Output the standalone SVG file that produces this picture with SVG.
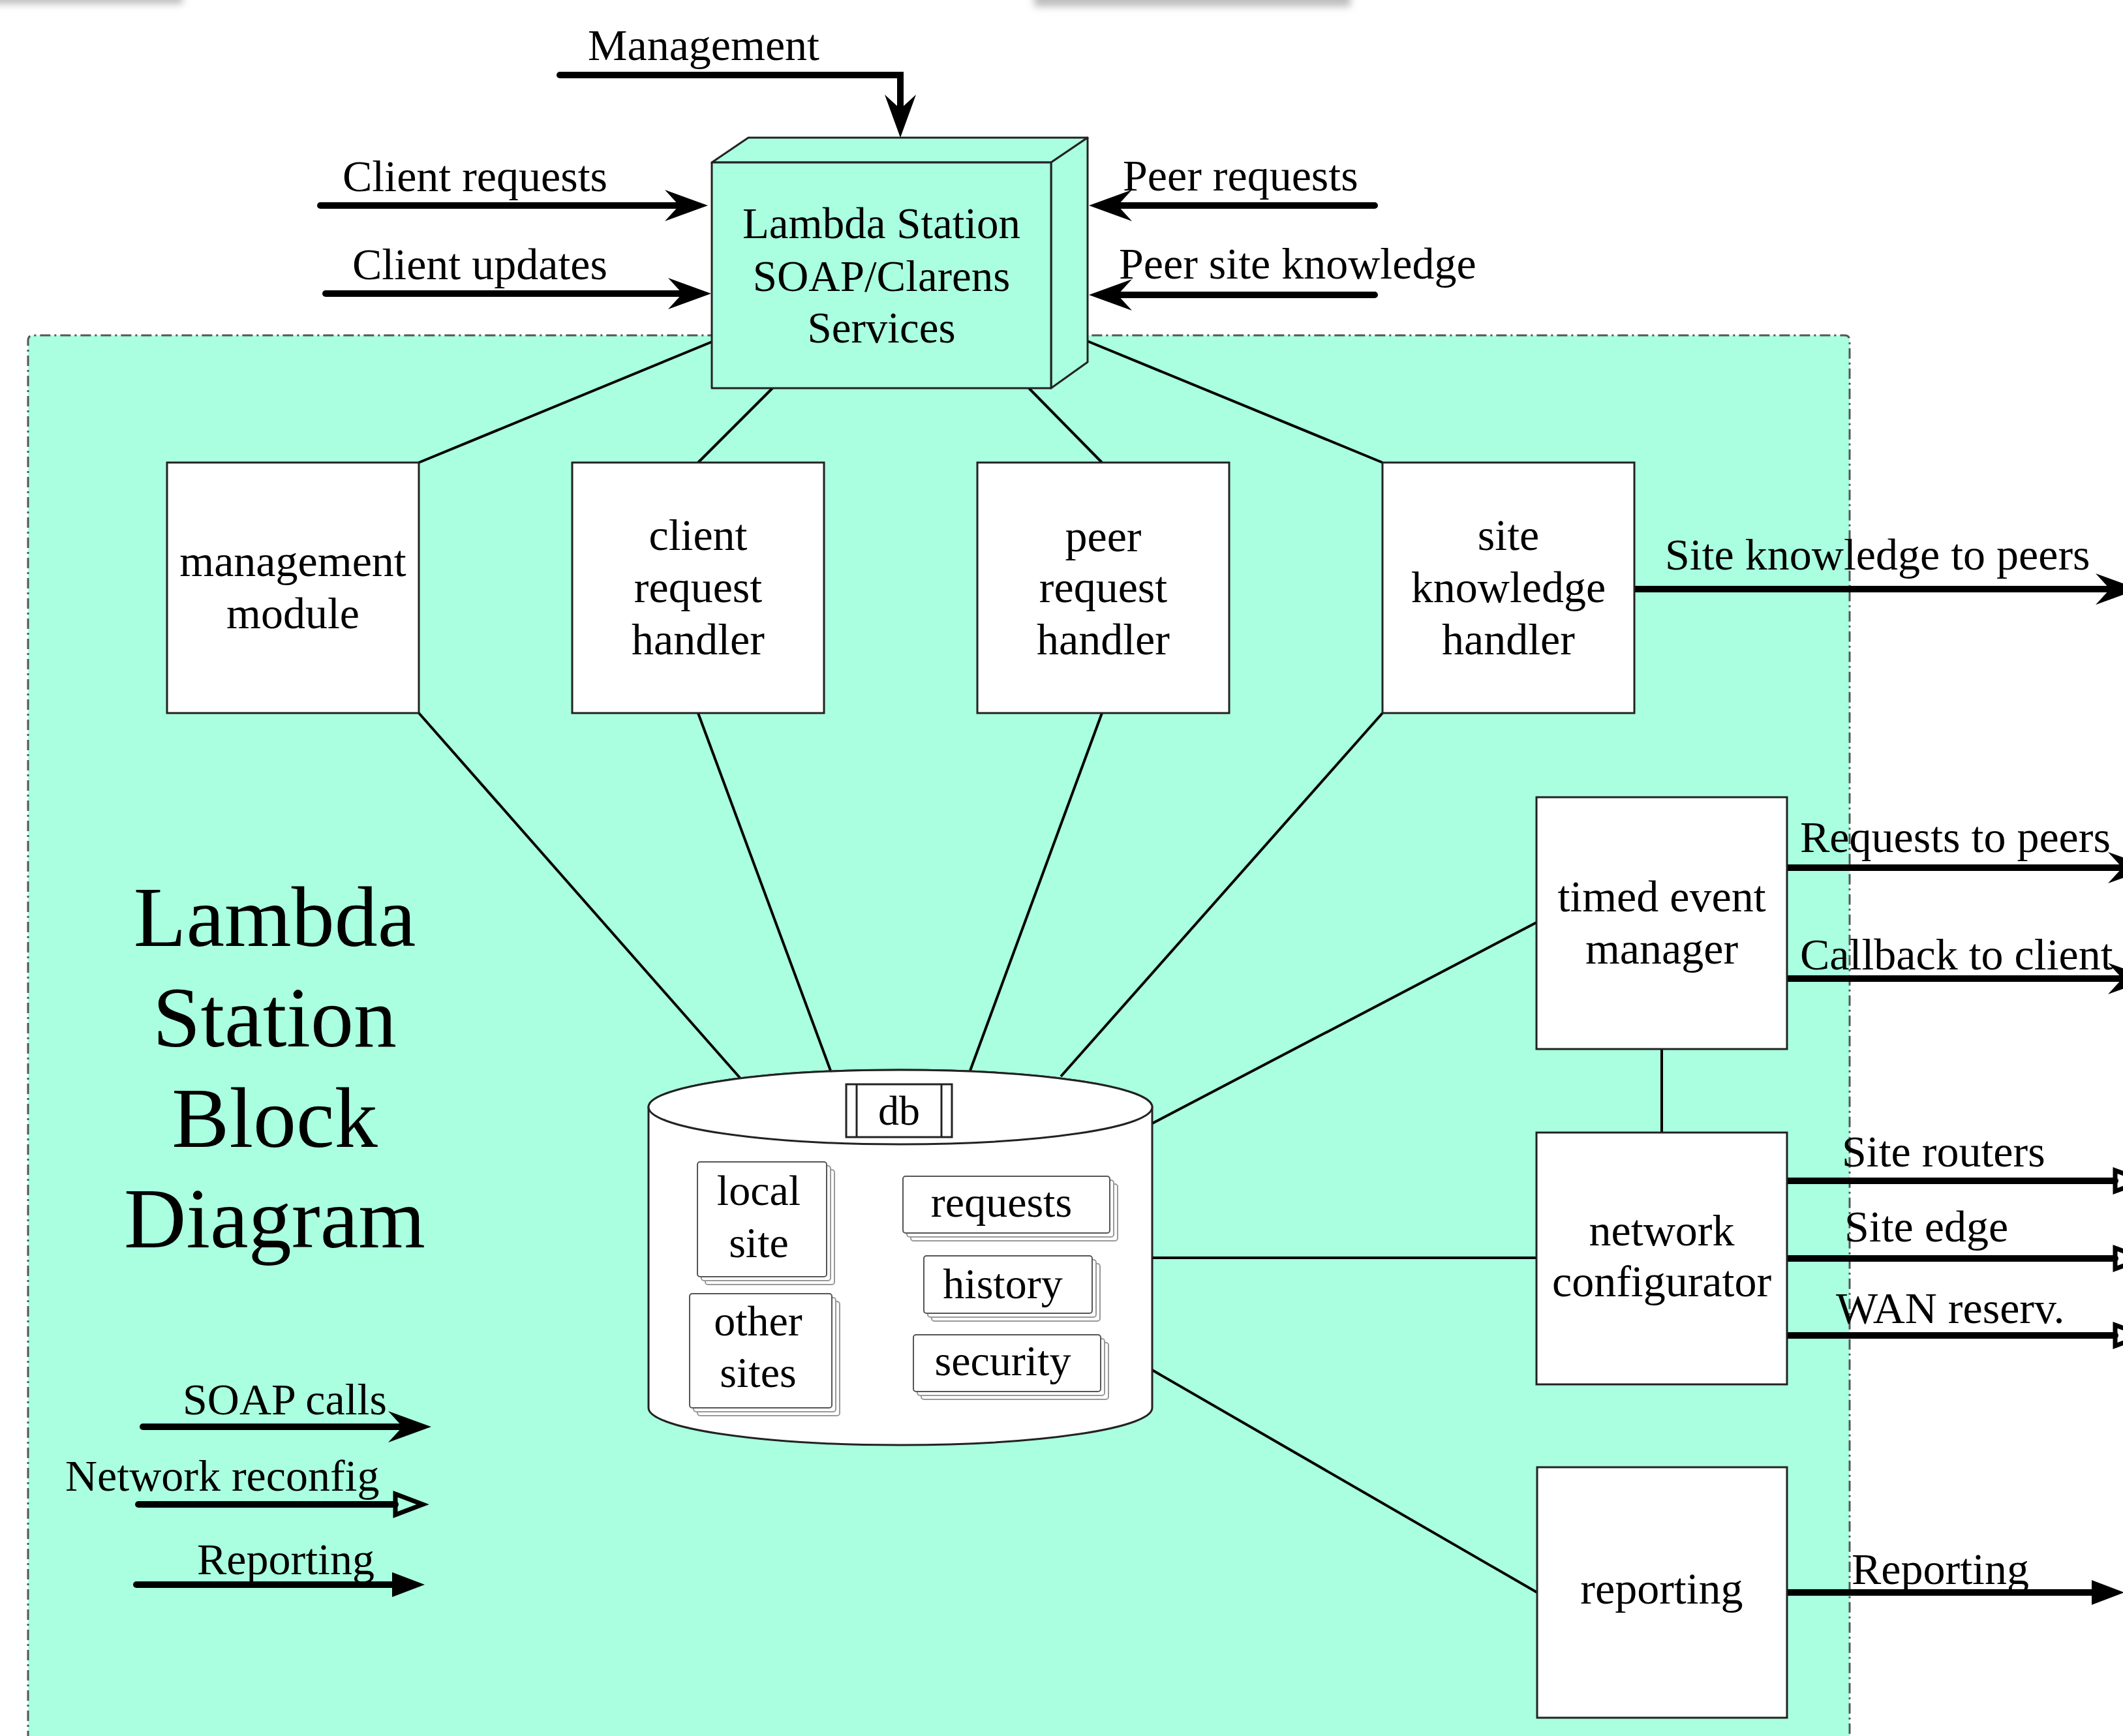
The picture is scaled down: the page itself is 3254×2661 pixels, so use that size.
<svg xmlns="http://www.w3.org/2000/svg" width="3254" height="2661" viewBox="0 0 3254 2661">
<style>
text{font-family:"Liberation Serif","Times New Roman",serif;fill:#000}
.lbl{font-size:68px}
.mid{text-anchor:middle}
.box{fill:#fff;stroke:#222;stroke-width:3}
.teal{fill:#AAFFE1;stroke:#222;stroke-width:3;stroke-linejoin:round}
.conn{stroke:#000;stroke-width:4;fill:none}
.arr{stroke:#000;stroke-width:10;fill:none;stroke-linecap:round;stroke-linejoin:miter}
.card{fill:#fff;stroke:#555;stroke-width:2}
.cardb{fill:#fff;stroke:#999;stroke-width:2}
.dbt{font-size:66px}
</style>
<defs>
<marker id="stealth" markerUnits="userSpaceOnUse" viewBox="-70 -30 76 60" markerWidth="76" markerHeight="60" refX="-30" refY="0" orient="auto">
<path d="M2,0 L-64,-24 L-42,0 L-64,24 Z" fill="#000"/>
</marker>
<marker id="hollow" markerUnits="userSpaceOnUse" viewBox="-52 -26 62 52" markerWidth="62" markerHeight="52" refX="-42" refY="0" orient="auto">
<path d="M0,0 L-42,-16 L-42,16 Z" fill="none" stroke="#000" stroke-width="7"/>
</marker>
<marker id="filled" markerUnits="userSpaceOnUse" viewBox="-52 -22 56 44" markerWidth="56" markerHeight="44" refX="-40" refY="0" orient="auto">
<path d="M2,0 L-48,-19 L-48,19 Z" fill="#000"/>
</marker>
<filter id="blur" x="-20%" y="-200%" width="140%" height="500%"><feGaussianBlur stdDeviation="6"/></filter>
</defs>

<rect width="3254" height="2661" fill="#fff"/>
<g id="shadows" filter="url(#blur)" fill="#bdbdbd">
<rect x="-30" y="-30" width="310" height="36"/>
<rect x="1585" y="-30" width="485" height="40"/>
</g>

<g id="boundary">
<path d="M43,2700 L43,522 Q43,514 51,514 L2827,514 Q2835,514 2835,522 L2835,2700" fill="#AAFFE1" stroke="#555" stroke-width="3" stroke-dasharray="16 6 3 6"/>
</g>

<g id="title">
<text class="mid" x="421" y="1450" font-size="132">Lambda</text>
<text class="mid" x="421" y="1604" font-size="132">Station</text>
<text class="mid" x="421" y="1758" font-size="132">Block</text>
<text class="mid" x="421" y="1912" font-size="132">Diagram</text>
</g>

<g id="connectors">
<line class="conn" x1="1091" y1="524" x2="642" y2="709"/>
<line class="conn" x1="1184" y1="595" x2="1070" y2="709"/>
<line class="conn" x1="1577" y1="595" x2="1689" y2="709"/>
<line class="conn" x1="1667" y1="523" x2="2119" y2="709"/>
<line class="conn" x1="642" y1="1093" x2="1134" y2="1652"/>
<line class="conn" x1="1070" y1="1093" x2="1273" y2="1641"/>
<line class="conn" x1="1689" y1="1093" x2="1487" y2="1641"/>
<line class="conn" x1="2119" y1="1093" x2="1626" y2="1650"/>
<line class="conn" x1="1766" y1="1722" x2="2355" y2="1414"/>
<line class="conn" x1="1766" y1="1928" x2="2355" y2="1928"/>
<line class="conn" x1="1766" y1="2100" x2="2356" y2="2441"/>
<line class="conn" x1="2547" y1="1608" x2="2547" y2="1736"/>

<path class="arr" d="M858,115 L1380,115 L1380,179" marker-end="url(#stealth)"/>
<path class="arr" d="M491,315 L1053,315" marker-end="url(#stealth)"/>
<path class="arr" d="M499,450 L1058,450" marker-end="url(#stealth)"/>
<path class="arr" d="M2107,315 L1701,315" marker-end="url(#stealth)"/>
<path class="arr" d="M2107,452 L1701,452" marker-end="url(#stealth)"/>
<path class="arr" d="M2504,903 L3246,903" marker-end="url(#stealth)"/>
<path class="arr" d="M2739,1330 L3265,1330" marker-end="url(#stealth)"/>
<path class="arr" d="M2739,1500 L3265,1500" marker-end="url(#stealth)"/>
<path class="arr" d="M2739,1810 L3242,1810" marker-end="url(#hollow)"/>
<path class="arr" d="M2739,1929 L3242,1929" marker-end="url(#hollow)"/>
<path class="arr" d="M2739,2047 L3242,2047" marker-end="url(#hollow)"/>
<path class="arr" d="M2739,2441 L3214,2441" marker-end="url(#filled)"/>
<path class="arr" d="M219,2187 L629,2187" marker-end="url(#stealth)"/>
<path class="arr" d="M212,2306 L606,2306" marker-end="url(#hollow)"/>
<path class="arr" d="M209,2429 L609,2429" marker-end="url(#filled)"/>
</g>

<g id="edge-labels" class="lbl">
<text x="901" y="92">Management</text>
<text x="525" y="293">Client requests</text>
<text x="540" y="428">Client updates</text>
<text x="1721" y="292">Peer requests</text>
<text x="1715" y="427">Peer site knowledge</text>
<text x="2552" y="873">Site knowledge to peers</text>
<text x="2759" y="1306">Requests to peers</text>
<text x="2759" y="1486">Callback to client</text>
<text x="2823" y="1788">Site routers</text>
<text x="2827" y="1903">Site edge</text>
<text x="2814" y="2028">WAN reserv.</text>
<text x="2838" y="2428">Reporting</text>
<text x="280" y="2168">SOAP calls</text>
<text x="100" y="2285">Network reconfig</text>
<text x="302" y="2413">Reporting</text>
</g>

<g id="soap-services">
<polygon class="teal" points="1091,249 1147,211 1667,211 1611,249"/>
<polygon class="teal" points="1611,249 1667,211 1667,555 1611,595"/>
<rect class="teal" x="1091" y="249" width="520" height="346"/>
<text class="mid" x="1351" y="365" font-size="67">Lambda Station</text>
<text class="mid" x="1351" y="446" font-size="67">SOAP/Clarens</text>
<text class="mid" x="1351" y="525" font-size="67">Services</text>
</g>

<g id="management-module">
<rect class="box" x="256" y="709" width="386" height="384"/>
<text class="lbl mid" x="449" y="883">management</text>
<text class="lbl mid" x="449" y="963">module</text>
</g>
<g id="client-request-handler">
<rect class="box" x="877" y="709" width="386" height="384"/>
<text class="lbl mid" x="1070" y="843">client</text>
<text class="lbl mid" x="1070" y="923">request</text>
<text class="lbl mid" x="1070" y="1003">handler</text>
</g>
<g id="peer-request-handler">
<rect class="box" x="1498" y="709" width="386" height="384"/>
<text class="lbl mid" x="1691" y="845">peer</text>
<text class="lbl mid" x="1691" y="923">request</text>
<text class="lbl mid" x="1691" y="1003">handler</text>
</g>
<g id="site-knowledge-handler">
<rect class="box" x="2119" y="709" width="386" height="384"/>
<text class="lbl mid" x="2312" y="843">site</text>
<text class="lbl mid" x="2312" y="923">knowledge</text>
<text class="lbl mid" x="2312" y="1003">handler</text>
</g>
<g id="timed-event-manager">
<rect class="box" x="2355" y="1222" width="384" height="386"/>
<text class="lbl mid" x="2547" y="1397">timed event</text>
<text class="lbl mid" x="2547" y="1477">manager</text>
</g>
<g id="network-configurator">
<rect class="box" x="2355" y="1736" width="384" height="386"/>
<text class="lbl mid" x="2547" y="1909">network</text>
<text class="lbl mid" x="2547" y="1987">configurator</text>
</g>
<g id="reporting">
<rect class="box" x="2356" y="2249" width="383" height="384"/>
<text class="lbl mid" x="2547" y="2458">reporting</text>
</g>

<g id="db">
<path d="M994,1697 L994,2158 A386,57 0 0 0 1766,2158 L1766,1697 A386,57 0 0 0 994,1697 Z" fill="#fff" stroke="#222" stroke-width="3"/>
<ellipse cx="1380" cy="1697" rx="386" ry="57" fill="#fff" stroke="#222" stroke-width="3"/>
<rect x="1297" y="1662" width="162" height="81" fill="#fff" stroke="#222" stroke-width="3"/>
<line x1="1313" y1="1662" x2="1313" y2="1743" stroke="#222" stroke-width="3"/>
<line x1="1443" y1="1662" x2="1443" y2="1743" stroke="#222" stroke-width="3"/>
<text class="mid" x="1378" y="1724" font-size="64">db</text>
</g>

<g id="local-site">
<rect class="cardb" x="1081" y="1793" width="198" height="176" rx="4"/>
<rect class="cardb" x="1075" y="1787" width="198" height="176" rx="4"/>
<rect class="card" x="1069" y="1781" width="198" height="176" rx="4"/>
<text class="dbt mid" x="1163" y="1847">local</text>
<text class="dbt mid" x="1163" y="1927">site</text>
</g>
<g id="other-sites">
<rect class="cardb" x="1069" y="1995" width="218" height="175" rx="4"/>
<rect class="cardb" x="1063" y="1989" width="218" height="175" rx="4"/>
<rect class="card" x="1057" y="1983" width="218" height="175" rx="4"/>
<text class="dbt mid" x="1162" y="2047">other</text>
<text class="dbt mid" x="1162" y="2126">sites</text>
</g>
<g id="requests">
<rect class="cardb" x="1396" y="1815" width="317" height="87" rx="4"/>
<rect class="cardb" x="1390" y="1809" width="317" height="87" rx="4"/>
<rect class="card" x="1384" y="1803" width="317" height="87" rx="4"/>
<text class="dbt mid" x="1535" y="1865">requests</text>
</g>
<g id="history">
<rect class="cardb" x="1428" y="1937" width="258" height="88" rx="4"/>
<rect class="cardb" x="1422" y="1931" width="258" height="88" rx="4"/>
<rect class="card" x="1416" y="1925" width="258" height="88" rx="4"/>
<text class="dbt mid" x="1537" y="1990">history</text>
</g>
<g id="security">
<rect class="cardb" x="1412" y="2058" width="287" height="87" rx="4"/>
<rect class="cardb" x="1406" y="2052" width="287" height="87" rx="4"/>
<rect class="card" x="1400" y="2046" width="287" height="87" rx="4"/>
<text class="dbt mid" x="1537" y="2108">security</text>
</g>
</svg>
